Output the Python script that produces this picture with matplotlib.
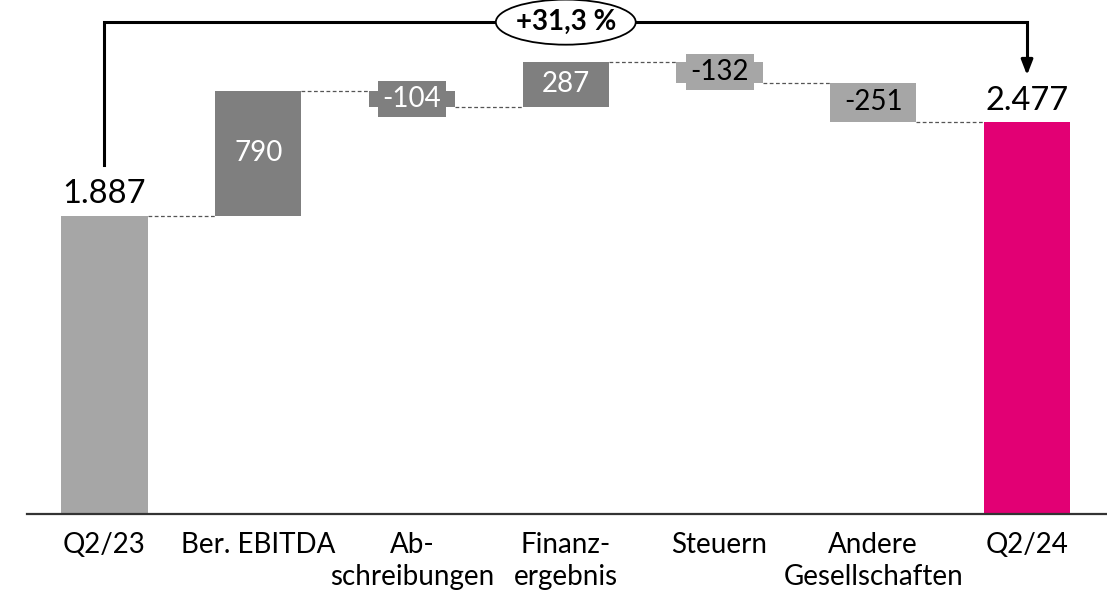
import matplotlib.pyplot as plt
from matplotlib.patches import Ellipse

plt.rcParams['font.family'] = ['Lato', 'DejaVu Sans']

categories = ['Q2/23', 'Ber. EBITDA', 'Ab-\nschreibungen', 'Finanz-\nergebnis',
              'Steuern', 'Andere\nGesellschaften', 'Q2/24']
start_value = 1887
changes = [790, -104, 287, -132, -251]
end_value = 2477
labels = ['1.887', '790', '-104', '287', '-132', '-251', '2.477']
growth_label = '+31,3 %'

LIGHT = '#a6a6a6'
DARK = '#7f7f7f'
MAGENTA = '#e20074'
bar_colors = [LIGHT, DARK, DARK, DARK, LIGHT, LIGHT, MAGENTA]
text_colors = ['black', 'white', 'white', 'white', 'black', 'black', 'black']

fig = plt.figure(figsize=(11.07, 5.91), dpi=100)
ax = fig.add_axes([27 / 1107, 1 - 514 / 591, 1 - 27 / 1107, 514 / 591])

# bottoms and heights for the waterfall
bottoms, heights = [0], [start_value]
running = start_value
for c in changes:
    lo = running + min(c, 0)
    bottoms.append(lo)
    heights.append(abs(c))
    running += c
bottoms.append(0)
heights.append(end_value)

x = list(range(len(categories)))
width = 0.56
ax.bar(x, heights, bottom=bottoms, width=width, color=bar_colors, zorder=2)

# dashed connectors between neighbouring bars
levels = [start_value]
running = start_value
for c in changes:
    running += c
    levels.append(running)
for i, lvl in enumerate(levels):
    ax.plot([i + width / 2, i + 1 - width / 2], [lvl, lvl], color='#555555',
            lw=0.9, ls=(0, (3, 2)), zorder=1)

# value labels
for i, (b, h, lab) in enumerate(zip(bottoms, heights, labels)):
    if i in (0, len(x) - 1):
        ax.text(i, b + h + 40, lab, ha='center', va='bottom', fontsize=23.5,
                color='black')
    elif h < 150:
        ax.text(i, b + h / 2, lab, ha='center', va='center', fontsize=20,
                color=text_colors[i],
                bbox=dict(boxstyle='square,pad=0.17', facecolor=bar_colors[i],
                          edgecolor='none'), zorder=3)
    else:
        ax.text(i, b + h / 2, lab, ha='center', va='center', fontsize=20,
                color=text_colors[i], zorder=3)

# growth bracket with arrow
top_y = 3110
ax.plot([0, 0, 6, 6], [2206, top_y, top_y, 2870], color='black', lw=2.2,
        solid_joinstyle='miter', clip_on=False, zorder=4)
ax.annotate('', xy=(6, 2775), xytext=(6, 2880),
            arrowprops=dict(arrowstyle='-|>,head_length=0.9,head_width=0.35',
                            color='black', lw=2.2, shrinkA=0, shrinkB=0),
            annotation_clip=False)
ax.add_patch(Ellipse((3, top_y), 0.91, 285, facecolor='white', edgecolor='black',
                     lw=1.3, zorder=5, clip_on=False))
ax.text(3, top_y, growth_label, ha='center', va='center', fontsize=20,
        fontweight='bold', zorder=6)

ax.set_xlim(-0.504, 6.52)
ax.set_ylim(0, 3250)
ax.set_xticks(x)
ax.set_xticklabels(categories, fontsize=20, linespacing=1.3)
ax.tick_params(axis='x', length=0, pad=13)
ax.set_yticks([])
for side in ('left', 'right', 'top'):
    ax.spines[side].set_visible(False)
ax.spines['bottom'].set_linewidth(1.6)
ax.spines['bottom'].set_color('#333333')

fig.savefig('out.png', dpi=100)
